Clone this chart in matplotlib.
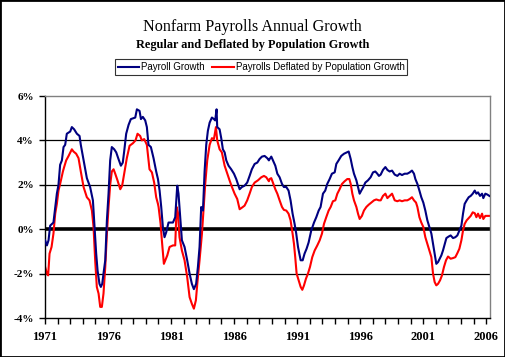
import matplotlib
matplotlib.use("Agg")
import matplotlib.pyplot as plt
from matplotlib.patches import Rectangle
from matplotlib.ticker import FixedLocator, MultipleLocator

# Payroll growth (%)
payroll_years = [
    1971.01, 1971.15, 1971.28, 1971.41, 1971.67, 1971.94, 1972.07, 1972.20, 1972.34, 1972.47,
    1972.60, 1972.73, 1973.00, 1973.13, 1973.31, 1973.53, 1973.74, 1973.84, 1974.06, 1974.32,
    1974.58, 1974.80, 1974.90, 1975.06, 1975.17, 1975.32, 1975.43, 1975.54, 1975.64, 1975.78,
    1975.91, 1976.04, 1976.17, 1976.30, 1976.49, 1976.65, 1976.83, 1977.02, 1977.17, 1977.28,
    1977.44, 1977.63, 1977.81, 1978.02, 1978.16, 1978.29, 1978.50, 1978.61, 1978.76, 1978.95,
    1979.08, 1979.21, 1979.40, 1979.61, 1979.82, 1979.96,
    1980.09, 1980.22, 1980.35, 1980.48, 1980.62, 1980.80, 1981.15, 1981.33, 1981.49, 1981.59,
    1981.73, 1981.86, 1982.07, 1982.28, 1982.47, 1982.65, 1982.81, 1982.99, 1983.13, 1983.26,
    1983.39, 1983.53, 1983.66, 1983.79, 1983.92, 1984.06, 1984.24, 1984.40, 1984.50, 1984.61,
    1984.66, 1984.85, 1984.98, 1985.11, 1985.25, 1985.38, 1985.56, 1985.77, 1985.99, 1986.17,
    1986.30, 1986.44, 1986.62, 1986.83, 1987.04, 1987.23, 1987.41, 1987.63, 1987.84, 1988.02,
    1988.21, 1988.42, 1988.63, 1988.76,
    1988.82, 1988.95, 1989.08, 1989.27, 1989.43, 1989.61, 1989.80, 1989.95, 1990.14, 1990.32,
    1990.48, 1990.64, 1990.80, 1990.93, 1991.07, 1991.28, 1991.44, 1991.59, 1991.75, 1991.91,
    1992.12, 1992.34, 1992.52, 1992.71, 1992.86, 1993.05, 1993.23, 1993.39, 1993.58, 1993.76,
    1993.98, 1994.11, 1994.29, 1994.50, 1994.72, 1994.90, 1995.09, 1995.25, 1995.38, 1995.51,
    1995.70, 1995.83, 1995.96, 1996.09, 1996.25, 1996.41, 1996.62, 1996.83, 1997.02, 1997.20,
    1997.36, 1997.49,
    1997.63, 1997.81, 1998.00, 1998.16, 1998.34, 1998.53, 1998.74, 1998.95, 1999.13, 1999.32,
    1999.53, 1999.74, 1999.93, 2000.11, 2000.27, 2000.38, 2000.54, 2000.70, 2000.85, 2001.01,
    2001.17, 2001.33, 2001.49, 2001.65, 2001.78, 2001.91, 2002.04, 2002.18, 2002.31, 2002.44,
    2002.57, 2002.71, 2002.84, 2003.02, 2003.18, 2003.37, 2003.55, 2003.71, 2003.87, 2004.03,
    2004.16, 2004.29, 2004.45, 2004.61, 2004.77, 2004.93, 2005.09, 2005.22, 2005.35, 2005.51,
    2005.67, 2005.77, 2005.93, 2006.09, 2006.25,
]
payroll_growth = [
    -0.5, -0.73, -0.5, 0.16, 0.3, 1.6, 2.0, 2.9, 3.1, 3.7,
    3.8, 4.3, 4.4, 4.6, 4.5, 4.3, 4.2, 3.8, 3.1, 2.3,
    1.9, 1.3, 0.4, -1.1, -1.86, -2.46, -2.6, -2.46, -2.0, -1.4,
    0.4, 1.6, 3.1, 3.7, 3.6, 3.46, 3.16, 2.86, 3.0, 3.5,
    4.3, 4.7, 4.96, 5.0, 5.03, 5.4, 5.33, 4.96, 5.06, 4.9,
    4.6, 3.8, 3.7, 3.2, 2.6, 2.26,
    1.74, 1.0, 0.1, -0.36, -0.13, 0.3, 0.3, 0.54, 1.96, 1.6,
    0.54, -0.5, -0.8, -1.4, -2.0, -2.46, -2.7, -2.46, -1.7, -0.8,
    1.0, 0.84, 2.6, 3.8, 4.43, 4.8, 5.03, 4.96, 4.9, 5.4,
    4.6, 4.5, 4.1, 3.6, 3.46, 3.1, 2.86, 2.7, 2.5, 2.26,
    2.04, 1.8, 1.9, 1.96, 2.1, 2.4, 2.7, 2.94, 3.0, 3.16,
    3.27, 3.3, 3.2, 3.1,
    3.16, 3.27, 3.1, 2.86, 2.5, 2.34, 2.04, 1.9, 1.9, 1.74,
    1.3, 0.7, 0.24, -0.2, -0.8, -1.4, -1.4, -1.1, -0.88, -0.6,
    -0.06, 0.3, 0.54, 0.84, 1.0, 1.6, 1.74, 2.04, 2.26, 2.5,
    2.56, 2.94, 3.1, 3.3, 3.4, 3.45, 3.5, 3.16, 2.8, 2.5,
    2.2, 1.9, 1.6, 1.74, 1.9, 2.1, 2.2, 2.34, 2.56, 2.6,
    2.5, 2.4,
    2.46, 2.67, 2.8, 2.67, 2.6, 2.64, 2.46, 2.4, 2.5, 2.44,
    2.5, 2.5, 2.56, 2.64, 2.5, 2.26, 2.04, 1.74, 1.44, 1.2,
    0.84, 0.4, 0.1, -0.2, -0.66, -1.1, -1.56, -1.48, -1.33, -1.18,
    -0.96, -0.66, -0.4, -0.33, -0.28, -0.4, -0.36, -0.28, -0.06, 0.16,
    0.7, 1.14, 1.3, 1.44, 1.5, 1.6, 1.74, 1.6, 1.66, 1.5,
    1.6, 1.4, 1.6, 1.56, 1.5,
]

# Payrolls deflated by population growth (%)
deflated_years = [
    1971.01, 1971.15, 1971.25, 1971.36, 1971.52, 1971.67, 1971.81, 1971.94, 1972.07, 1972.20,
    1972.42, 1972.52, 1972.68, 1972.87, 1973.13, 1973.26, 1973.47, 1973.66, 1973.84, 1974.06,
    1974.32, 1974.53, 1974.72, 1974.85, 1974.98, 1975.11, 1975.25, 1975.38, 1975.51, 1975.64,
    1975.78, 1975.91, 1976.04, 1976.17, 1976.30, 1976.44, 1976.57, 1976.75, 1976.97, 1977.12,
    1977.28, 1977.49, 1977.71, 1977.97, 1978.18, 1978.34, 1978.55, 1978.68, 1978.87, 1979.08,
    1979.29, 1979.48, 1979.66, 1979.82, 1979.96,
    1980.01, 1980.17, 1980.27, 1980.43, 1980.54, 1980.70, 1980.88, 1981.15, 1981.33, 1981.44,
    1981.54, 1981.67, 1981.86, 1982.07, 1982.28, 1982.47, 1982.65, 1982.81, 1982.97, 1983.08,
    1983.26, 1983.45, 1983.61, 1983.71, 1983.87, 1984.06, 1984.24, 1984.40, 1984.56, 1984.66,
    1984.85, 1985.03, 1985.25, 1985.46, 1985.64, 1985.83, 1986.04, 1986.25, 1986.44, 1986.62,
    1986.83, 1987.04, 1987.23, 1987.41, 1987.63, 1987.89, 1988.16, 1988.37, 1988.55, 1988.76,
    1988.82, 1988.95, 1989.08, 1989.27, 1989.43, 1989.61, 1989.80, 1989.95, 1990.14, 1990.32,
    1990.48, 1990.64, 1990.75, 1990.85, 1990.96, 1991.12, 1991.28, 1991.41, 1991.54, 1991.70,
    1991.86, 1992.02, 1992.20, 1992.39, 1992.60, 1992.79, 1992.97, 1993.13, 1993.31, 1993.50,
    1993.66, 1993.84, 1994.03, 1994.19, 1994.37, 1994.56, 1994.77, 1994.98, 1995.14, 1995.25,
    1995.38, 1995.51, 1995.70, 1995.83, 1995.96, 1996.14, 1996.30, 1996.49, 1996.67, 1996.89,
    1997.10, 1997.28, 1997.49,
    1997.63, 1997.81, 1998.00, 1998.16, 1998.34, 1998.53, 1998.74, 1998.95, 1999.13, 1999.32,
    1999.53, 1999.74, 1999.93, 2000.11, 2000.27, 2000.43, 2000.54, 2000.70, 2000.85, 2001.01,
    2001.17, 2001.33, 2001.49, 2001.65, 2001.78, 2001.91, 2002.04, 2002.18, 2002.34, 2002.49,
    2002.65, 2002.81, 2002.97, 2003.18, 2003.37, 2003.55, 2003.71, 2003.87, 2004.03, 2004.16,
    2004.29, 2004.45, 2004.61, 2004.77, 2004.93, 2005.09, 2005.22, 2005.35, 2005.51, 2005.67,
    2005.77, 2005.93, 2006.09, 2006.25,
]
deflated_growth = [
    -1.7, -2.0, -2.08, -1.1, -0.8, -0.2, 0.7, 1.14, 1.74, 2.04,
    2.6, 2.8, 3.1, 3.3, 3.6, 3.5, 3.4, 3.2, 2.6, 1.9,
    1.44, 1.3, 0.84, 0.1, -1.4, -2.6, -2.9, -3.5, -3.5, -2.9,
    -1.7, -0.2, 1.0, 2.0, 2.6, 2.7, 2.5, 2.2, 1.8, 1.96,
    2.5, 3.2, 3.76, 3.87, 4.0, 4.3, 4.2, 4.0, 4.06, 3.8,
    2.7, 2.56, 2.1, 1.44, 1.14,
    1.0, 0.24, -0.5, -1.56, -1.4, -1.18, -0.8, -0.73, -0.73, 1.0,
    0.76, -0.36, -0.96, -1.4, -2.16, -3.06, -3.36, -3.58, -3.2, -2.46,
    -1.4, -0.2, 1.14, 2.04, 3.1, 3.8, 4.1, 4.06, 4.6, 4.0,
    3.6, 3.46, 2.86, 2.5, 2.2, 1.9, 1.6, 1.36, 0.9, 0.97,
    1.06, 1.3, 1.6, 1.9, 2.1, 2.2, 2.34, 2.4, 2.34, 2.16,
    2.26, 2.3, 2.1, 1.8, 1.6, 1.3, 1.0, 0.87, 0.84, 0.7,
    0.4, -0.2, -0.66, -1.26, -2.0, -2.3, -2.6, -2.73, -2.54, -2.23,
    -2.0, -1.7, -1.26, -0.96, -0.73, -0.5, -0.2, 0.24, 0.54, 0.84,
    1.0, 1.26, 1.3, 1.6, 1.8, 2.04, 2.16, 2.26, 2.26, 2.04,
    1.6, 1.3, 1.0, 0.7, 0.46, 0.6, 0.84, 1.0, 1.1, 1.2,
    1.3, 1.34, 1.3,
    1.3, 1.5, 1.6, 1.4, 1.5, 1.6, 1.3, 1.26, 1.3, 1.26,
    1.3, 1.3, 1.36, 1.44, 1.3, 1.2, 1.0, 0.54, 0.3, 0.1,
    -0.36, -0.66, -0.96, -1.26, -2.0, -2.38, -2.53, -2.46, -2.3, -2.08,
    -1.7, -1.4, -1.23, -1.33, -1.3, -1.26, -1.08, -0.88, -0.5, -0.06,
    0.24, 0.4, 0.5, 0.6, 0.76, 0.72, 0.54, 0.7, 0.5, 0.7,
    0.46, 0.6, 0.6, 0.6,
]

year_labels = [1971, 1976, 1981, 1986, 1991, 1996, 2001, 2006]
pct_ticks = [-4, -2, 0, 2, 4, 6]

fig = plt.figure(figsize=(5.05, 3.57), dpi=100)
ax = fig.add_axes([45 / 505, 1 - 318 / 357, 445 / 505, 222 / 357])

for v in [-2, 2, 4]:
    ax.axhline(v, color="black", linewidth=0.9, zorder=1)
ax.axhline(0, color="black", linewidth=2.6, zorder=1)

ax.plot(payroll_years, payroll_growth, color="#000080", linewidth=1.5, label="Payroll Growth", zorder=3)
ax.plot(deflated_years, deflated_growth, color="#ff0000", linewidth=1.5,
        label="Payrolls Deflated by Population Growth", zorder=2)

ax.set_xlim(1971, 2006.3)
ax.set_ylim(-4, 6)
ax.xaxis.set_major_locator(FixedLocator(year_labels))
ax.xaxis.set_minor_locator(MultipleLocator(1))
ax.set_yticks(pct_ticks)
ax.set_yticklabels([f"{v}%" for v in pct_ticks])

for side in ["top", "right"]:
    ax.spines[side].set_color("#808080")
    ax.spines[side].set_linewidth(1.0)
for side in ["left", "bottom"]:
    ax.spines[side].set_color("black")
    ax.spines[side].set_linewidth(1.0)

ax.tick_params(axis="both", which="both", direction="out", length=4, width=1, color="black")
ax.tick_params(axis="y", pad=4)
ax.tick_params(axis="x", pad=5)
for lab in ax.get_xticklabels():
    lab.set_fontfamily("Liberation Serif")
    lab.set_fontweight("bold")
    lab.set_fontsize(9)
for lab in ax.get_yticklabels():
    lab.set_fontfamily("Liberation Serif")
    lab.set_fontweight("bold")
    lab.set_fontsize(8)

fig.text(0.5, 1 - 27 / 357, "Nonfarm Payrolls Annual Growth", ha="center", va="center",
         family="Liberation Serif", fontsize=11.6)
fig.text(0.5, 1 - 45 / 357, "Regular and Deflated by Population Growth", ha="center", va="center",
         family="Liberation Serif", fontweight="bold", fontsize=8.8)

leg = fig.legend(loc="center", bbox_to_anchor=(261 / 505, 1 - 67 / 357), ncol=2,
                 frameon=True, fancybox=False, edgecolor="black", handlelength=2.2,
                 handletextpad=0.2, columnspacing=0.8, borderpad=0.3,
                 prop={"family": "Liberation Sans", "size": 7})
leg.get_frame().set_linewidth(0.8)

fig.patches.append(Rectangle((0, 0), 1, 1, transform=fig.transFigure, fill=False,
                             edgecolor="black", linewidth=2))

fig.savefig("out.png", dpi=100)
